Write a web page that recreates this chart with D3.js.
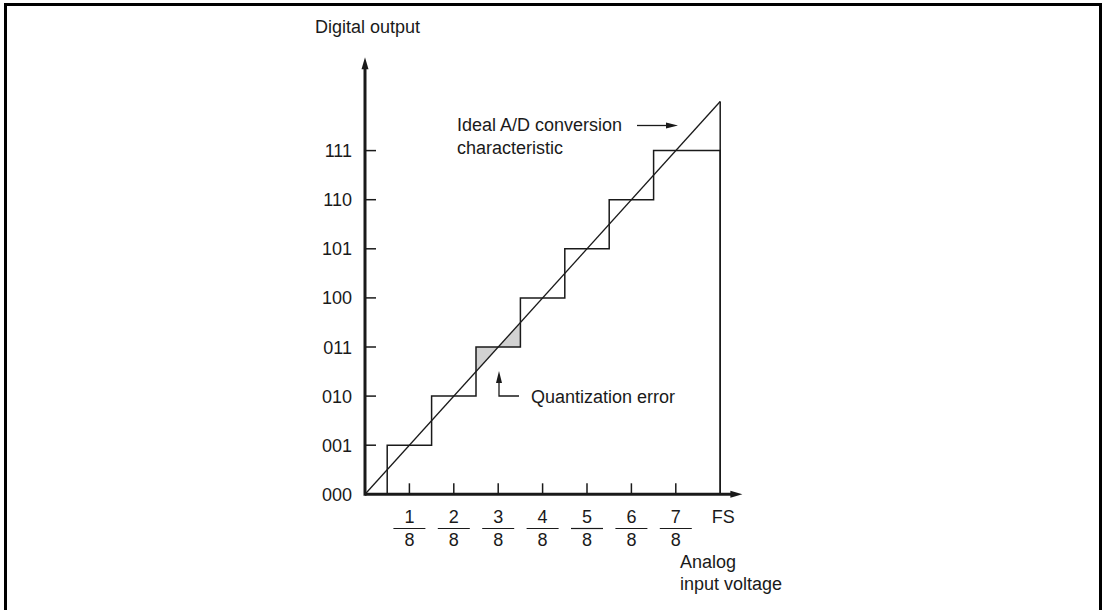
<!DOCTYPE html>
<html>
<head>
<meta charset="utf-8">
<script src="https://cdn.jsdelivr.net/npm/d3@7"></script>
<style>
  html, body { margin: 0; padding: 0; background: #fff; }
  svg { display: block; font-family: "Liberation Sans", Arial, sans-serif; }
</style>
</head>
<body>
<svg id="chart"></svg>
<script>
// A/D converter transfer characteristic

const width = 1103;
const height = 610;

// output codes, one per quantization level
const codes = ["000", "001", "010", "011", "100", "101", "110", "111"];
// x tick labels: fractions of full scale
const numerators = ["1", "2", "3", "4", "5", "6", "7"];
const denominator = "8";
// input (in eighths of FS) where the output steps up to the next code
const thresholds = [0.5, 1.5, 2.5, 3.5, 4.5, 5.5, 6.5];
// the code whose quantization error is shaded
const errorCode = 3;

const fs = 18;
const svg = d3.select("#chart").attr("width", width).attr("height", height);
const ink = "#1a1a1a";

// frame (no bottom edge in the original)
svg.append("path")
    .attr("d", `M5.5,${height} V4.5 H1100.5 V${height}`)
    .attr("fill", "none")
    .attr("stroke", "#000")
    .attr("stroke-width", 3);

const x = d3.scaleLinear().domain([0, 8]).range([365, 720.2]);
const y = d3.scaleLinear().domain([0, 8]).range([494.3, 101.5]);

// shaded quantization error triangles
const errorAreas = [
    [[errorCode - 0.5, errorCode - 0.5], [errorCode - 0.5, errorCode], [errorCode, errorCode]],
    [[errorCode, errorCode], [errorCode + 0.5, errorCode], [errorCode + 0.5, errorCode + 0.5]]
];
svg.selectAll(".err")
    .data(errorAreas)
    .join("path")
    .attr("class", "err")
    .attr("d", d => "M" + d.map(p => [x(p[0]), y(p[1])].join(",")).join("L") + "Z")
    .attr("fill", "#d2d2d2")
    .attr("stroke", "none");

// staircase
const stepPts = [[thresholds[0], 0]]
    .concat(thresholds.map((t, i) => [t, i + 1]))
    .concat([[8, codes.length - 1], [8, 0]]);
svg.append("path")
    .attr("d", d3.line().x(d => x(d[0])).y(d => y(d[1])).curve(d3.curveStepAfter)(stepPts))
    .attr("fill", "none")
    .attr("stroke", ink)
    .attr("stroke-width", 1.5);

// FS vertical line up to the ideal line
svg.append("line")
    .attr("x1", x(8)).attr("x2", x(8))
    .attr("y1", y(8)).attr("y2", y(0))
    .attr("stroke", ink).attr("stroke-width", 1.5);

// ideal characteristic
svg.append("line")
    .attr("x1", x(0)).attr("y1", y(0))
    .attr("x2", x(8)).attr("y2", y(8))
    .attr("stroke", ink)
    .attr("stroke-width", 1.3);

// axes
const xEnd = x(8.5), yTop = y(8.9);
svg.append("line")
    .attr("x1", x(0)).attr("y1", y(0))
    .attr("x2", xEnd - 8).attr("y2", y(0))
    .attr("stroke", ink).attr("stroke-width", 3);
svg.append("line")
    .attr("x1", x(0)).attr("y1", y(0) + 1.5)
    .attr("x2", x(0)).attr("y2", yTop + 8)
    .attr("stroke", ink).attr("stroke-width", 3);

svg.append("path")
    .attr("d", `M${xEnd},${y(0)} L${xEnd - 12},${y(0) - 3.5} L${xEnd - 12},${y(0) + 3.5}Z`)
    .attr("fill", ink);
svg.append("path")
    .attr("d", `M${x(0)},${yTop} L${x(0) - 3.5},${yTop + 12} L${x(0) + 3.5},${yTop + 12}Z`)
    .attr("fill", ink);

// y ticks (inside) and code labels
svg.selectAll(".ytick")
    .data(codes.slice(1))
    .join("line")
    .attr("x1", x(0)).attr("x2", x(0) + 11)
    .attr("y1", (d, i) => y(i + 1)).attr("y2", (d, i) => y(i + 1))
    .attr("stroke", ink).attr("stroke-width", 1.5);

svg.selectAll(".ylab")
    .data(codes)
    .join("text")
    .attr("x", 352)
    .attr("y", (d, i) => y(i) + 6.5)
    .attr("text-anchor", "end")
    .attr("font-size", fs)
    .attr("fill", ink)
    .text(d => d);

// x ticks (inside)
svg.selectAll(".xtick")
    .data(numerators)
    .join("line")
    .attr("x1", (d, i) => x(i + 1)).attr("x2", (d, i) => x(i + 1))
    .attr("y1", y(0)).attr("y2", y(0) - 11)
    .attr("stroke", ink).attr("stroke-width", 1.5);

// fraction labels
const frac = svg.selectAll(".frac")
    .data(numerators)
    .join("g")
    .attr("transform", (d, i) => `translate(${x(i + 1)},0)`);
frac.append("text")
    .attr("y", 523).attr("text-anchor", "middle")
    .attr("font-size", fs).attr("fill", ink)
    .text(d => d);
frac.append("line")
    .attr("x1", -16).attr("x2", 16)
    .attr("y1", 528.5).attr("y2", 528.5)
    .attr("stroke", ink).attr("stroke-width", 1.2);
frac.append("text")
    .attr("y", 546).attr("text-anchor", "middle")
    .attr("font-size", fs).attr("fill", ink)
    .text(denominator);

svg.append("text")
    .attr("x", x(8) + 3).attr("y", 523)
    .attr("text-anchor", "middle")
    .attr("font-size", fs).attr("fill", ink)
    .text("FS");

// axis titles
svg.append("text")
    .attr("x", 315).attr("y", 33)
    .attr("font-size", fs).attr("fill", ink)
    .text("Digital output");

svg.append("text")
    .attr("x", 680).attr("y", 568)
    .attr("font-size", fs).attr("fill", ink)
    .selectAll("tspan")
    .data(["Analog", "input voltage"])
    .join("tspan")
    .attr("x", 680)
    .attr("dy", (d, i) => i ? 22 : 0)
    .text(d => d);

// annotation: ideal characteristic
svg.append("text")
    .attr("x", 457).attr("y", 131)
    .attr("font-size", fs).attr("fill", ink)
    .selectAll("tspan")
    .data(["Ideal A/D conversion", "characteristic"])
    .join("tspan")
    .attr("x", 457)
    .attr("dy", (d, i) => i ? 22.5 : 0)
    .text(d => d);
svg.append("line")
    .attr("x1", 637).attr("x2", 668)
    .attr("y1", 125.5).attr("y2", 125.5)
    .attr("stroke", ink).attr("stroke-width", 1.3);
svg.append("path")
    .attr("d", "M678,125.5 L666,122.5 L666,128.5Z")
    .attr("fill", ink);

// annotation: quantization error
svg.append("path")
    .attr("d", "M519,396 H499 V381")
    .attr("fill", "none")
    .attr("stroke", ink).attr("stroke-width", 1.3);
svg.append("path")
    .attr("d", "M499,371 L496,383 L502,383Z")
    .attr("fill", ink);
svg.append("text")
    .attr("x", 531).attr("y", 403)
    .attr("font-size", fs).attr("fill", ink)
    .text("Quantization error");
</script>
</body>
</html>
